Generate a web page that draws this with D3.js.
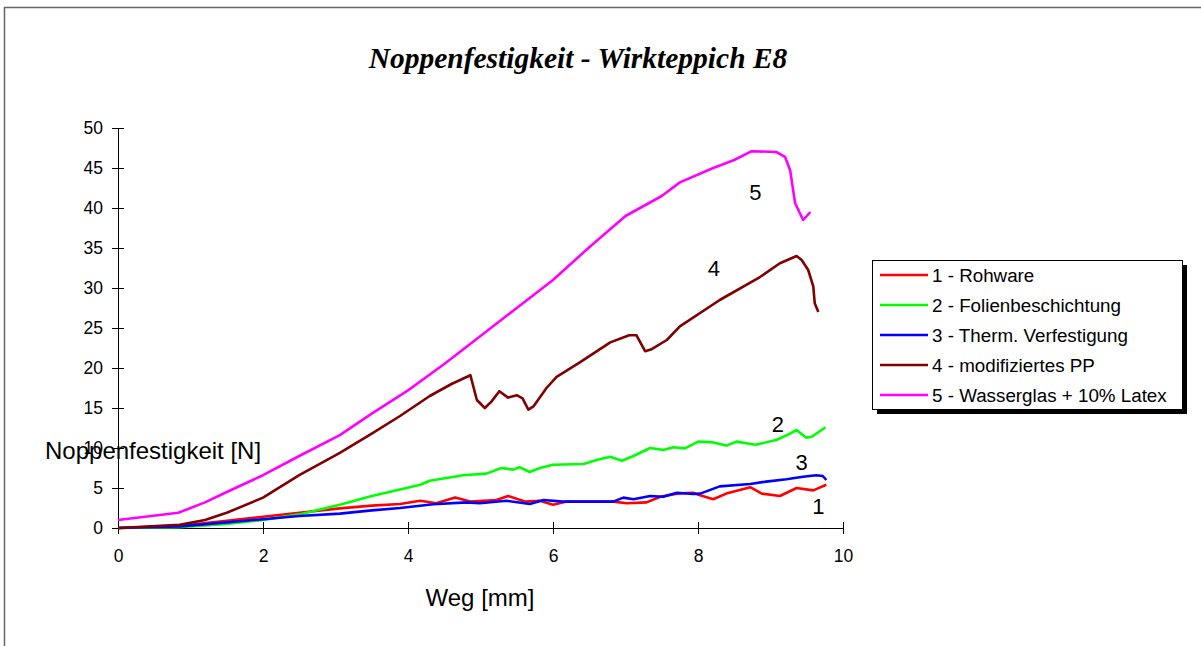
<!DOCTYPE html>
<html>
<head>
<meta charset="utf-8">
<script src="https://cdn.jsdelivr.net/npm/d3@7"></script>
<style>
  body { margin: 0; background: #fff; }
  svg { display: block; }
</style>
</head>
<body>
<svg id="chart"></svg>
<script>
// values
const xTicks = [0, 2, 4, 6, 8, 10];
const yTicks = [0, 5, 10, 15, 20, 25, 30, 35, 40, 45, 50];

const names = ['1 - Rohware', '2 - Folienbeschichtung', '3 - Therm. Verfestigung',
  '4 - modifiziertes PP', '5 - Wasserglas + 10% Latex'];
const colors = ['#ff0000', '#00ff00', '#0000ff', '#800000', '#ff00ff'];

const x1 = [0, 0.83, 1.5, 2, 2.5, 3.06, 3.5, 3.89, 4.17, 4.39, 4.65, 4.86, 5.22, 5.38, 5.61, 5.82, 6.0, 6.19, 6.83, 7.02, 7.29, 7.48, 7.71, 7.93, 8.03, 8.21, 8.39, 8.72, 8.88, 9.13, 9.36, 9.59, 9.77];
const y1 = [0, 0.25, 0.9, 1.4, 1.9, 2.45, 2.8, 3.0, 3.4, 3.1, 3.8, 3.3, 3.5, 4.0, 3.3, 3.4, 2.9, 3.3, 3.3, 3.1, 3.2, 3.9, 4.3, 4.4, 4.1, 3.6, 4.3, 5.1, 4.3, 4.0, 5.0, 4.7, 5.4];

const x2 = [0, 0.85, 1.5, 2, 2.5, 3.06, 3.5, 3.89, 4.17, 4.3, 4.76, 5.08, 5.29, 5.45, 5.54, 5.68, 5.82, 6.0, 6.42, 6.6, 6.79, 6.95, 7.11, 7.34, 7.52, 7.66, 7.82, 8.0, 8.21, 8.39, 8.53, 8.79, 9.08, 9.27, 9.36, 9.49, 9.57, 9.76];
const y2 = [0, 0.1, 0.5, 1.0, 1.7, 2.9, 4.0, 4.8, 5.4, 5.9, 6.6, 6.8, 7.5, 7.3, 7.6, 7.0, 7.5, 7.9, 8.0, 8.5, 8.9, 8.4, 9.0, 10.0, 9.75, 10.1, 9.95, 10.8, 10.7, 10.3, 10.8, 10.4, 11.0, 11.8, 12.25, 11.3, 11.4, 12.6];

const x3 = [0, 0.85, 1.5, 2, 2.5, 3.06, 3.5, 3.89, 4.35, 4.81, 4.99, 5.36, 5.68, 5.87, 6.14, 6.83, 6.97, 7.11, 7.34, 7.52, 7.71, 7.93, 8.03, 8.3, 8.72, 8.94, 9.22, 9.45, 9.63, 9.72, 9.77];
const y3 = [0, 0.2, 0.7, 1.1, 1.5, 1.8, 2.2, 2.5, 2.96, 3.2, 3.1, 3.4, 3.0, 3.5, 3.3, 3.3, 3.8, 3.6, 4.0, 3.9, 4.4, 4.25, 4.3, 5.2, 5.5, 5.8, 6.1, 6.4, 6.6, 6.5, 6.0];

const x4 = [0, 0.85, 1.2, 1.5, 2, 2.5, 3.06, 3.5, 3.89, 4.3, 4.6, 4.86, 4.95, 5.06, 5.15, 5.26, 5.38, 5.5, 5.58, 5.66, 5.73, 5.91, 6.05, 6.37, 6.79, 7.05, 7.15, 7.27, 7.35, 7.57, 7.75, 8.3, 8.86, 9.13, 9.36, 9.43, 9.52, 9.59, 9.61, 9.66];
const y4 = [0, 0.4, 1.0, 1.9, 3.8, 6.6, 9.4, 11.8, 14.0, 16.5, 18.0, 19.1, 16.0, 15.0, 15.8, 17.1, 16.3, 16.6, 16.2, 14.8, 15.2, 17.5, 18.9, 20.7, 23.2, 24.1, 24.1, 22.1, 22.3, 23.5, 25.2, 28.5, 31.4, 33.1, 34.0, 33.5, 32.25, 30.2, 28.1, 27.0];

const x5 = [0, 0.83, 1.2, 1.5, 2, 2.5, 3.06, 3.5, 4, 4.5, 5, 5.5, 6, 6.5, 7, 7.5, 7.75, 8.21, 8.5, 8.74, 9.08, 9.2, 9.27, 9.34, 9.45, 9.55];
const y5 = [1.0, 1.9, 3.2, 4.5, 6.6, 9.0, 11.6, 14.3, 17.2, 20.5, 24.0, 27.5, 31.0, 35.1, 39.0, 41.5, 43.2, 45.0, 46.0, 47.1, 47.0, 46.4, 44.75, 40.6, 38.5, 39.5];

const xs = [x1, x2, x3, x4, x5];
const ys = [y1, y2, y3, y4, y5];

// series numbers written next to the curves
const tagText = ['1', '2', '3', '4', '5'];
const tagX = [9.66, 9.1, 9.43, 8.22, 8.79];
const tagY = [1.75, 12.0, 7.3, 31.5, 41.0];

const width = 1201;
const height = 646;
const margin = { top: 128, right: 358, bottom: 118, left: 118 };

const svg = d3.select('#chart')
  .attr('width', width)
  .attr('height', height);

// outer frame
svg.append('rect')
  .attr('x', 4.5)
  .attr('y', 7.5)
  .attr('width', 1250)
  .attr('height', 700)
  .attr('fill', 'none')
  .attr('stroke', '#666')
  .attr('stroke-width', 1.5);

const x = d3.scaleLinear()
  .domain([0, 10])
  .range([margin.left, width - margin.right]);

const y = d3.scaleLinear()
  .domain([0, 50])
  .range([height - margin.bottom, margin.top]);

// title
svg.append('text')
  .attr('x', 578)
  .attr('y', 68)
  .attr('text-anchor', 'middle')
  .attr('font-family', '"Liberation Serif", "Times New Roman", serif')
  .attr('font-size', '29.5px')
  .attr('font-weight', 'bold')
  .attr('font-style', 'italic')
  .text('Noppenfestigkeit - Wirkteppich E8');

// axes, ticks crossing the line
const xAxis = svg.append('g')
  .attr('transform', `translate(0,${y(0)})`)
  .call(d3.axisBottom(x).tickValues(xTicks).tickSize(6).tickSizeOuter(0).tickPadding(16));
xAxis.selectAll('.tick line').attr('y1', -6);

const yAxis = svg.append('g')
  .attr('transform', `translate(${x(0)},0)`)
  .call(d3.axisLeft(y).tickValues(yTicks).tickSize(6).tickSizeOuter(0).tickPadding(9));
yAxis.selectAll('.tick line').attr('x1', 6);

svg.selectAll('.domain, .tick line').attr('stroke', '#000');
svg.selectAll('.tick text')
  .attr('font-family', 'Arial, "Liberation Sans", sans-serif')
  .attr('font-size', '17.5px')
  .attr('fill', '#000');

// axis titles
svg.append('text')
  .attr('x', 480)
  .attr('y', 606)
  .attr('text-anchor', 'middle')
  .attr('font-family', 'Arial, "Liberation Sans", sans-serif')
  .attr('font-size', '24px')
  .text('Weg [mm]');

svg.append('text')
  .attr('x', 45)
  .attr('y', 459)
  .attr('font-family', 'Arial, "Liberation Sans", sans-serif')
  .attr('font-size', '24px')
  .text('Noppenfestigkeit [N]');

// curves
const line = d3.line()
  .x((d) => x(d[0]))
  .y((d) => y(d[1]));

svg.append('g')
  .selectAll('path')
  .data(xs.map((xv, i) => xv.map((v, j) => [v, ys[i][j]])))
  .join('path')
  .attr('d', line)
  .attr('fill', 'none')
  .attr('stroke', (d, i) => colors[i])
  .attr('stroke-width', 2.6)
  .attr('stroke-linejoin', 'round');

svg.append('g')
  .selectAll('text')
  .data(tagText)
  .join('text')
  .attr('x', (d, i) => x(tagX[i]))
  .attr('y', (d, i) => y(tagY[i]))
  .attr('text-anchor', 'middle')
  .attr('font-family', 'Arial, "Liberation Sans", sans-serif')
  .attr('font-size', '22px')
  .text((d) => d);

// legend with drop shadow
const lg = svg.append('g').attr('transform', 'translate(872,260)');
lg.append('rect')
  .attr('x', 5).attr('y', 5)
  .attr('width', 310).attr('height', 149)
  .attr('fill', '#000');
lg.append('rect')
  .attr('x', 0.5).attr('y', 0.5)
  .attr('width', 310).attr('height', 149)
  .attr('fill', '#fff')
  .attr('stroke', '#000');

const rows = lg.selectAll('.row')
  .data(names)
  .join('g')
  .attr('class', 'row')
  .attr('transform', (d, i) => `translate(0,${15 + i * 30})`);
rows.append('line')
  .attr('x1', 8).attr('x2', 56)
  .attr('stroke', (d, i) => colors[i])
  .attr('stroke-width', 2.6);
rows.append('text')
  .attr('x', 60)
  .attr('y', 6.5)
  .attr('font-family', 'Arial, "Liberation Sans", sans-serif')
  .attr('font-size', '18.8px')
  .text((d) => d);
</script>
</body>
</html>
